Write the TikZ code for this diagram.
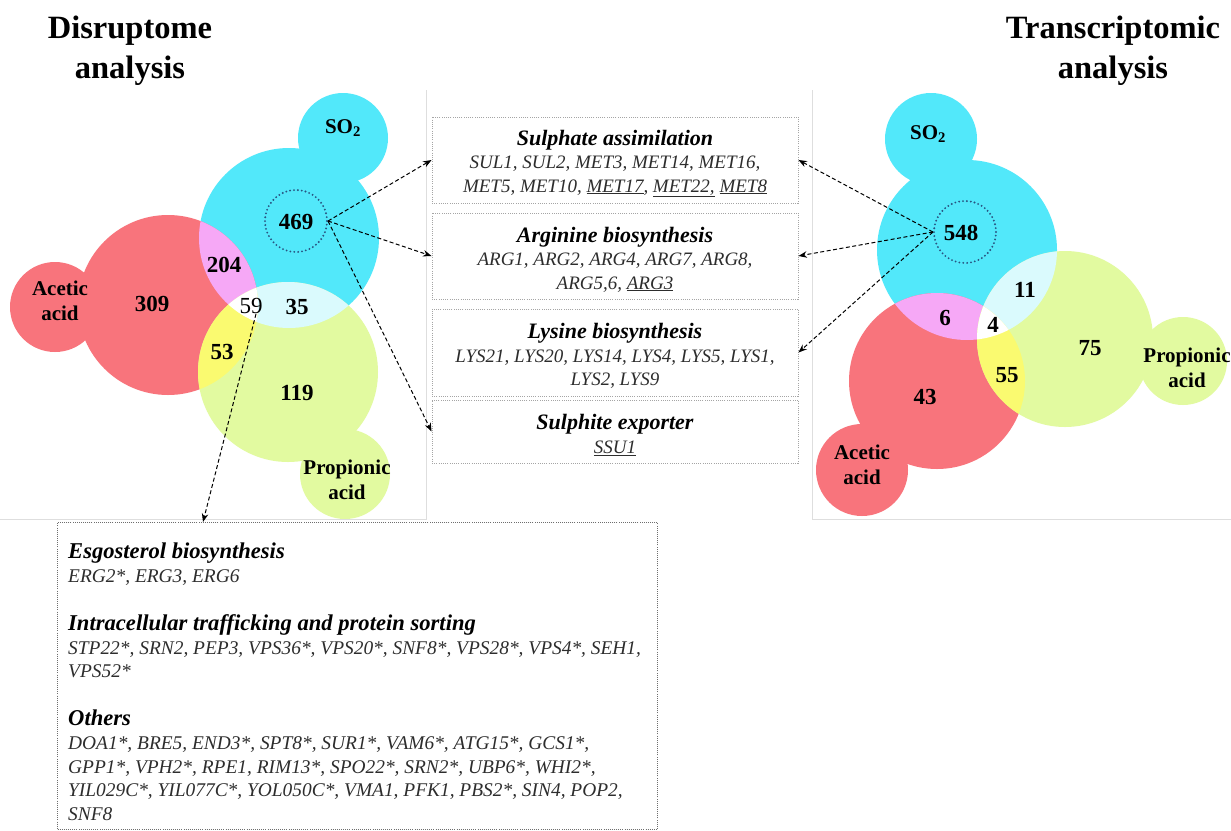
\documentclass[tikz,border=0pt]{standalone}
\usepackage{fontspec}
\setmainfont{Liberation Serif}
\usetikzlibrary{arrows.meta,calc}
\definecolor{cSO}{RGB}{82,232,250}
\definecolor{cAc}{RGB}{248,116,124}
\definecolor{cPr}{RGB}{226,250,160}
\definecolor{cPk}{RGB}{246,168,246}
\definecolor{cYe}{RGB}{250,250,112}
\definecolor{cLC}{RGB}{218,250,253}
\definecolor{cDot}{RGB}{40,85,130}
\definecolor{cFrame}{RGB}{222,222,222}
\definecolor{cBox}{RGB}{165,165,165}
\definecolor{cBB}{RGB}{110,110,110}
\definecolor{cGene}{RGB}{45,45,45}
\newcommand\boxhead[1]{{\color{black}\bfseries\fontsize{22}{23.5}\selectfont\rule{0pt}{22pt}#1}}
\newcommand\grouphead[1]{{\color{black}\bfseries\fontsize{22.6}{23.8}\selectfont #1}}
\begin{document}
\begin{tikzpicture}[x=1pt,y=-1pt,
  num/.style={font=\fontsize{23}{25}\selectfont\bfseries, inner sep=0pt},
  numr/.style={font=\fontsize{23}{25}\selectfont, inner sep=0pt},
  lab/.style={font=\fontsize{21}{25}\selectfont\bfseries, align=center, inner sep=0pt},
  ttl/.style={font=\fontsize{32.5}{40}\selectfont\bfseries, align=center, inner sep=0pt, anchor=north},
  dcirc/.style={circle, draw=cDot, line width=2.1pt, dash pattern=on 0pt off 3.9pt, line cap=round, minimum size=62pt, inner sep=0pt},
  midbox/.style={draw=cBox, line width=0.9pt, dash pattern=on 1pt off 1.2pt, minimum width=366pt, inner sep=0pt, align=center, text=cGene, font=\fontsize{19}{23.5}\selectfont\itshape},
  arr/.style={-{Stealth[length=8.5pt,width=6.5pt]}, line width=1pt, dash pattern=on 4pt off 2.5pt},
  frameline/.style={draw=cFrame, line width=1pt}
]
\useasboundingbox (0,0) rectangle (1231,830);
\fill[white] (0,0) rectangle (1231,830);

% panel frames
\draw[frameline] (426,90) -- (426,519) -- (0,519);
\draw[frameline] (812,90) -- (812,519) -- (1231,519);

% titles
\node[ttl] (tl) at (130,16) {Disruptome\\analysis};
\node[ttl] (tr) at (1113,16) {Transcriptomic\\analysis};

% ---------- left Venn ----------
\fill[cSO] (343,138) circle[radius=45pt];
\fill[cSO] (289,238) circle[radius=90pt];
\fill[cAc] (55,307) circle[radius=45pt];
\fill[cAc] (168,305) circle[radius=90pt];
\fill[cPr] (345,474) circle[radius=45pt];
\fill[cPr] (288,372) circle[radius=90pt];
\begin{scope}
  \clip (289,238) circle[radius=90pt];
  \fill[cPk] (168,305) circle[radius=90pt];
  \fill[cLC] (288,372) circle[radius=90pt];
\end{scope}
\begin{scope}
  \clip (168,305) circle[radius=90pt];
  \fill[cYe] (288,372) circle[radius=90pt];
\end{scope}
\begin{scope}
  \clip (289,238) circle[radius=90pt];
  \clip (168,305) circle[radius=90pt];
  \fill[white] (288,372) circle[radius=90pt];
\end{scope}

\node[lab] (lso) at (343,128) {SO\textsubscript{2}};
\node[lab] (lac) at (60,301) {Acetic\\acid};
\node[lab] (lpr) at (347,480) {Propionic\\acid};
\node[dcirc] (d469) at (296,221) {};
\node[num] (n469) at (296,222) {469};
\node[num] (n204) at (224,265) {204};
\node[num] (n309) at (152,304) {309};
\node[numr] (n59) at (251,306) {59};
\node[num] (n35) at (297,307) {35};
\node[num] (n53) at (222,352) {53};
\node[num] (n119) at (297,393) {119};

% ---------- right Venn ----------
\fill[cSO] (931,139) circle[radius=46pt];
\fill[cSO] (967,250) circle[radius=90pt];
\fill[cAc] (862,470) circle[radius=46pt];
\fill[cAc] (937,381) circle[radius=88pt];
\fill[cPr] (1183,361) circle[radius=44pt];
\fill[cPr] (1065,339) circle[radius=88pt];
\begin{scope}
  \clip (967,250) circle[radius=90pt];
  \fill[cPk] (937,381) circle[radius=88pt];
  \fill[cLC] (1065,339) circle[radius=88pt];
\end{scope}
\begin{scope}
  \clip (937,381) circle[radius=88pt];
  \fill[cYe] (1065,339) circle[radius=88pt];
\end{scope}
\begin{scope}
  \clip (967,250) circle[radius=90pt];
  \clip (937,381) circle[radius=88pt];
  \fill[white] (1065,339) circle[radius=88pt];
\end{scope}

\node[lab] (rso) at (928,134) {SO\textsubscript{2}};
\node[lab] (rac) at (862,465) {Acetic\\acid};
\node[lab] (rpr) at (1187,368) {Propionic\\acid};
\node[dcirc] (d548) at (965,232) {};
\node[num] (n548) at (961,233) {548};
\node[num] (n11) at (1025,290) {11};
\node[num] (n6) at (945,318) {6};
\node[num] (n4) at (993,325) {4};
\node[num] (n75) at (1090,348) {75};
\node[num] (n55) at (1007,375) {55};
\node[num] (n43) at (925,397) {43};

% ---------- middle boxes ----------
\node[midbox, minimum height=86pt] (b1) at (615,160) {\boxhead{Sulphate assimilation}\\
  SUL1, SUL2, MET3, MET14, MET16,\\
  MET5, MET10, \underline{MET17}, \underline{MET22,} \underline{MET8}};
\node[midbox, minimum height=86pt] (b2) at (615,256) {\boxhead{Arginine biosynthesis}\\
  ARG1, ARG2, ARG4, ARG7, ARG8,\\
  ARG5,6, \underline{ARG3}};
\node[midbox, minimum height=87pt] (b3) at (615,352.5) {\boxhead{Lysine biosynthesis}\\
  LYS21, LYS20, LYS14, LYS4, LYS5, LYS1,\\
  LYS2, LYS9};
\node[midbox, minimum height=63pt] (b4) at (615,431.5) {\boxhead{Sulphite exporter}\\
  \underline{SSU1}};

% ---------- bottom box ----------
\node[draw=cBB, line width=1.1pt, dash pattern=on 1pt off 1.1pt, minimum width=600pt, minimum height=307pt, anchor=north west, inner sep=0pt] (bb) at (57,522) {};
\node[anchor=north west, align=left, inner sep=0pt, text=cGene, font=\fontsize{19.4}{23.8}\selectfont\itshape] (bbt) at (68,543) {\grouphead{Esgosterol biosynthesis}\\
  ERG2*, ERG3, ERG6\\[23.8pt]
  \grouphead{Intracellular trafficking and protein sorting}\\
  STP22*, SRN2, PEP3, VPS36*, VPS20*, SNF8*, VPS28*, VPS4*, SEH1,\\
  VPS52*\\[23.8pt]
  \grouphead{Others}\\
  DOA1*, BRE5, END3*, SPT8*, SUR1*, VAM6*, ATG15*, GCS1*,\\
  GPP1*, VPH2*, RPE1, RIM13*, SPO22*, SRN2*, UBP6*, WHI2*,\\
  YIL029C*, YIL077C*, YOL050C*, VMA1, PFK1, PBS2*, SIN4, POP2,\\
  SNF8};

% ---------- arrows ----------
\draw[arr] (d469.east) -- (b1.west);
\draw[arr] (d469.east) -- (b2.west);
\draw[arr] (d469.east) -- (b4.west);
\draw[arr] (d548.west) -- (b1.east);
\draw[arr] (d548.west) -- (b2.east);
\draw[arr] (d548.west) -- (b3.east);
\draw[arr] ($(n59.south)+(5,0)$) -- ($(bb.north west)+(146,0)$);
\end{tikzpicture}
\end{document}
